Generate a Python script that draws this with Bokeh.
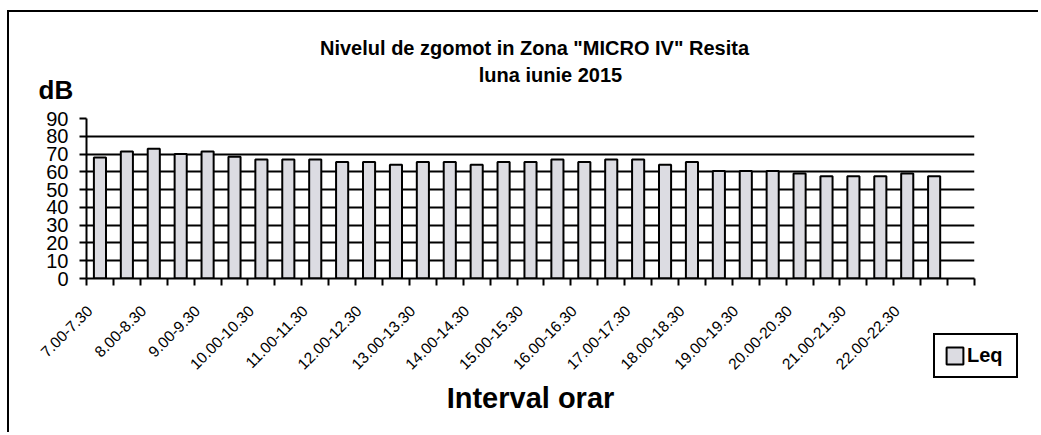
from math import pi
from bokeh.plotting import figure
from bokeh.models import FixedTicker, Grid, Label, Legend, LegendItem
from bokeh.embed import file_html
from bokeh.resources import INLINE

# ---- data ----
categories = ["7.00-7.30", "7.30-8.00", "8.00-8.30", "8.30-9.00", "9.00-9.30", "9.30-10.00",
              "10.00-10.30", "10.30-11.00", "11.00-11.30", "11.30-12.00", "12.00-12.30",
              "12.30-13.00", "13.00-13.30", "13.30-14.00", "14.00-14.30", "14.30-15.00",
              "15.00-15.30", "15.30-16.00", "16.00-16.30", "16.30-17.00", "17.00-17.30",
              "17.30-18.00", "18.00-18.30", "18.30-19.00", "19.00-19.30", "19.30-20.00",
              "20.00-20.30", "20.30-21.00", "21.00-21.30", "21.30-22.00", "22.00-22.30",
              "22.30-23.00"]
leq = [68, 71.5, 73, 70, 71.5, 68.5, 67, 67, 67, 65.5, 65.5, 64, 65.5, 65.5, 64, 65.5,
       65.5, 67, 65.5, 67, 67, 64, 65.5, 60.5, 60.5, 60.5, 59, 57.5, 57.5, 57.5, 59, 57.5]
y_ticks = [0, 10, 20, 30, 40, 50, 60, 70, 80, 90]
title_lines = ['Nivelul de zgomot in Zona "MICRO IV" Resita', "luna iunie 2015"]
y_title = "dB"
x_title = "Interval orar"
series_name = "Leq"

FONT = "Liberation Sans"
BAR_FILL = "#dcdce2"

n_slots = len(categories) + 1      # one empty category slot at the end, as in the original
shift = 0.37                       # rotated labels sit a little left of the bar centres
bar_x = [i + 1 + shift for i in range(len(categories))]
label_idx = list(range(0, len(categories), 2))

# ================= main chart =================
W, H = 1031, 422
p = figure(width=W, height=H,
           x_range=(0.5 + shift, n_slots + 0.5 + shift), y_range=(0, 90),
           output_backend="svg", toolbar_location=None,
           min_border_left=77, min_border_right=W - 77 - 888,
           min_border_top=106, min_border_bottom=H - 106 - 160,
           background_fill_color="white", border_fill_color="white")
p.outline_line_color = None
p.styles = {"border-left": "2px solid black", "border-top": "2px solid black",
            "margin-top": "10px", "margin-left": "7px"}

bars = p.vbar(x=bar_x, top=leq, width=0.45, bottom=0,
              fill_color=BAR_FILL, line_color="black", line_width=2)

# x axis: tick marks between categories, every second category labelled
xa = p.xaxis[0]
xa.ticker = FixedTicker(ticks=[i + 1 for i in label_idx],
                        minor_ticks=[k + 0.5 + shift for k in range(n_slots + 1)])
xa.major_label_overrides = {i + 1: categories[i] for i in label_idx}
xa.major_tick_out = 0
xa.major_tick_in = 0
xa.minor_tick_out = 7
xa.minor_tick_in = 0
xa.minor_tick_line_color = "black"
xa.minor_tick_line_width = 2
xa.axis_line_color = "black"
xa.axis_line_width = 2
xa.major_label_orientation = pi / 4
xa.major_label_standoff = 23
xa.major_label_text_font = FONT
xa.major_label_text_font_size = "15.5px"
xa.major_label_text_color = "black"
xa.axis_label = x_title
xa.axis_label_text_font = FONT
xa.axis_label_text_font_style = "bold"
xa.axis_label_text_font_size = "29px"
xa.axis_label_text_color = "black"
xa.axis_label_standoff = 5

# y axis
ya = p.yaxis[0]
ya.ticker = FixedTicker(ticks=y_ticks)
ya.major_tick_out = 7
ya.major_tick_in = 0
ya.major_tick_line_color = "black"
ya.major_tick_line_width = 2
ya.minor_tick_line_color = None
ya.axis_line_color = "black"
ya.axis_line_width = 2
ya.major_label_standoff = 11
ya.major_label_text_font = FONT
ya.major_label_text_font_size = "20px"
ya.major_label_text_color = "black"

# grids
p.xgrid.visible = False
p.ygrid.ticker = FixedTicker(ticks=y_ticks[1:-1])
p.ygrid.grid_line_color = "black"
p.ygrid.grid_line_width = 2
p.add_layout(Grid(dimension=1, ticker=FixedTicker(ticks=y_ticks[-1:]),
                  grid_line_color="#c8c8c8", grid_line_width=1))

# ================= transparent overlay (page pixel coordinates) for outer texts =================
OW, OH = 1031, 422
ov = figure(width=OW, height=OH, x_range=(0, OW), y_range=(OH, 0),
            x_axis_type=None, y_axis_type=None, min_border=0,
            output_backend="svg", toolbar_location=None,
            background_fill_alpha=0, border_fill_alpha=0)
ov.outline_line_color = None
ov.grid.visible = False
ov.styles = {"position": "absolute", "left": "0px", "top": "0px", "pointer-events": "none"}

ov.add_layout(Label(x=534, y=47.5, text=title_lines[0], text_align="center",
                    text_baseline="middle", text_font=FONT, text_font_style="bold",
                    text_font_size="20px", text_color="black"))
ov.add_layout(Label(x=550, y=74, text=title_lines[1], text_align="center",
                    text_baseline="middle", text_font=FONT, text_font_style="bold",
                    text_font_size="20px", text_color="black"))
ov.add_layout(Label(x=38, y=89, text=y_title, text_align="left",
                    text_baseline="middle", text_font=FONT, text_font_style="bold",
                    text_font_size="26px", text_color="black"))

# legend swatch: same series and styling as the bars, not drawn itself in the overlay
swatch = ov.vbar(x=bar_x, top=leq, width=0.45, bottom=0, fill_color=BAR_FILL,
                 line_color="black", line_width=2, visible=False)
legend = Legend(items=[LegendItem(label=series_name, renderers=[swatch])],
                location=(933, OH - 337 - 41), orientation="vertical",
                border_line_color="black", border_line_width=2, border_line_alpha=1,
                background_fill_color="white", background_fill_alpha=1,
                inactive_fill_alpha=0,
                padding=9, margin=0, glyph_width=21, glyph_height=21,
                label_standoff=2, label_width=40, label_height=20,
                label_text_font=FONT, label_text_font_style="bold",
                label_text_font_size="20px", label_text_color="black")
ov.add_layout(legend, "center")

open("out.html", "w").write(file_html([p, ov], INLINE))
